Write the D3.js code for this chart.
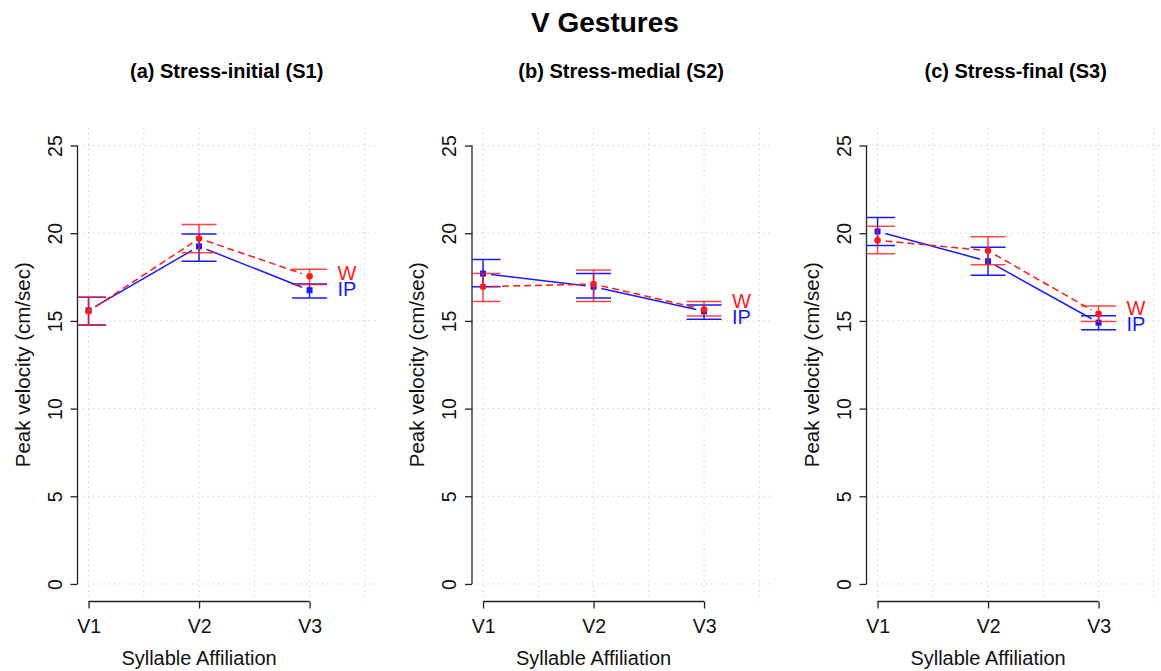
<!DOCTYPE html>
<html><head><meta charset="utf-8">
<script src="https://cdn.jsdelivr.net/npm/d3@7"></script>
<style>body{margin:0;background:#fff}svg{display:block}text{font-family:"Liberation Sans",Arial,sans-serif}</style>
</head><body>
<svg id="c" width="1161" height="671"></svg>
<script>
const mainTitle = "V Gestures";
const panelTitles = ["(a) Stress-initial (S1)", "(b) Stress-medial (S2)", "(c) Stress-final (S3)"];
const categories = ["V1", "V2", "V3"];
const yTicks = [0, 5, 10, 15, 20, 25];
const seriesNames = ["W", "IP"];
// W (red, dashed) means and error limits per panel
const wMean = [[15.55, 19.70, 17.55], [16.95, 17.10, 15.65], [19.60, 19.00, 15.40]];
const wLow  = [[14.76, 18.88, 17.08], [16.10, 16.10, 15.28], [18.83, 18.20, 14.96]];
const wHigh = [[16.35, 20.50, 17.95], [17.70, 17.90, 16.10], [20.40, 19.80, 15.85]];
// IP (blue, solid)
const ipMean = [[15.60, 19.25, 16.75], [17.70, 16.95, 15.55], [20.10, 18.40, 14.90]];
const ipLow  = [[14.76, 18.40, 16.30], [16.95, 16.30, 15.10], [19.30, 17.60, 14.50]];
const ipHigh = [[16.35, 19.95, 17.10], [18.50, 17.70, 15.90], [20.90, 19.20, 15.30]];

const svg = d3.select("#c");
const RED = "#ff1a1a", BLUE = "#1a1aff", AX = "#222";

svg.append("text").attr("x", 605).attr("y", 32).attr("text-anchor", "middle")
  .attr("font-size", 28).attr("font-weight", "bold").text(mainTitle);

panelTitles.forEach((t, k) => {
  const left = 77.5 + 394.5 * k;
  const x = d3.scaleLinear().domain([0.9, 3.6]).range([left, left + 2.7 * 110.5]);
  const y = d3.scaleLinear().domain([-1, 26]).range([601.5, 128]);
  const g = svg.append("g");
  const cid = "clip" + k;
  svg.append("clipPath").attr("id", cid).append("rect")
    .attr("x", x(0.9)).attr("y", y(26)).attr("width", x(3.6) - x(0.9)).attr("height", y(-1) - y(26));

  g.append("text").attr("x", (x(0.9) + x(3.6)) / 2).attr("y", 78).attr("text-anchor", "middle")
    .attr("font-size", 20).attr("font-weight", "bold").text(t);

  // grid
  const gx = d3.range(1, 3.51, 0.5);
  g.selectAll(".gv").data(gx).join("line")
    .attr("x1", d => x(d)).attr("x2", d => x(d)).attr("y1", y(26)).attr("y2", y(-1))
    .attr("stroke", "#c8c8c8").attr("stroke-dasharray", "1.2,4").attr("stroke-width", 1);
  g.selectAll(".gh").data(yTicks).join("line")
    .attr("x1", x(0.9)).attr("x2", x(3.6)).attr("y1", d => y(d)).attr("y2", d => y(d))
    .attr("stroke", "#c8c8c8").attr("stroke-dasharray", "1.2,4").attr("stroke-width", 1);

  // y axis
  const ya = g.append("g").attr("transform", `translate(${x(0.9)},0)`)
    .call(d3.axisLeft(y).tickValues(yTicks).tickSize(7).tickSizeOuter(0).tickFormat(d3.format("d")));
  ya.select(".domain").attr("d", `M0,${y(0)}V${y(25)}`).attr("stroke", AX).attr("stroke-width", 1.3);
  ya.selectAll(".tick line").attr("stroke", AX).attr("stroke-width", 1.3);
  ya.selectAll(".tick text").attr("font-size", 19.5).attr("fill", "#111")
    .attr("x", 0).attr("y", 0).attr("dy", 0).attr("text-anchor", "middle")
    .attr("transform", "translate(-16,0) rotate(-90)");

  // x axis
  const xa = g.append("g").attr("transform", `translate(0,${y(-1)})`)
    .call(d3.axisBottom(x).tickValues([1, 2, 3]).tickSize(7).tickSizeOuter(0).tickFormat(d => categories[d - 1]));
  xa.select(".domain").attr("d", `M${x(1)},0H${x(3)}`).attr("stroke", AX).attr("stroke-width", 1.3);
  xa.selectAll(".tick line").attr("stroke", AX).attr("stroke-width", 1.3);
  xa.selectAll(".tick text").attr("font-size", 19.5).attr("fill", "#111").attr("y", 31).attr("dy", 0);

  g.append("text").attr("x", x(2)).attr("y", 665).attr("text-anchor", "middle")
    .attr("font-size", 20).attr("fill", "#111").text("Syllable Affiliation");
  g.append("text").attr("transform", `translate(${x(0.9) - 48},${y(12.5)}) rotate(-90)`)
    .attr("text-anchor", "middle").attr("font-size", 20.5).attr("fill", "#111").text("Peak velocity (cm/sec)");

  const plot = g.append("g").attr("clip-path", `url(#${cid})`);
  const series = [
    {mean: ipMean[k], lo: ipLow[k], hi: ipHigh[k], color: BLUE, dash: null, shape: "sq"},
    {mean: wMean[k], lo: wLow[k], hi: wHigh[k], color: RED, dash: "7,4", shape: "ci"}
  ];
  series.forEach((s, si) => {
    const pts = s.mean.map((v, i) => [x(i + 1), y(v)]);
    for (let i = 0; i < pts.length - 1; i++) {
      const [x1, y1] = pts[i], [x2, y2] = pts[i + 1];
      const L = Math.hypot(x2 - x1, y2 - y1), gap = 8;
      const ux = (x2 - x1) / L, uy = (y2 - y1) / L;
      plot.append("line").attr("x1", x1 + ux * gap).attr("y1", y1 + uy * gap)
        .attr("x2", x2 - ux * gap).attr("y2", y2 - uy * gap)
        .attr("stroke", s.color).attr("stroke-width", 1.5).attr("stroke-dasharray", s.dash);
    }
    s.mean.forEach((v, i) => {
      const cx = x(i + 1), op = si === 1 ? 0.8 : 1;
      plot.append("line").attr("x1", cx).attr("x2", cx).attr("y1", y(s.lo[i])).attr("y2", y(s.hi[i]))
        .attr("stroke", s.color).attr("stroke-width", 1.5).attr("opacity", op);
      [s.lo[i], s.hi[i]].forEach(e => {
        plot.append("line").attr("x1", cx - 17.5).attr("x2", cx + 17.5).attr("y1", y(e)).attr("y2", y(e))
          .attr("stroke", s.color).attr("stroke-width", 1.5).attr("opacity", op);
      });
      if (s.shape === "sq") {
        plot.append("rect").attr("x", cx - 3).attr("y", y(v) - 3).attr("width", 6).attr("height", 6).attr("fill", s.color);
      } else {
        plot.append("circle").attr("cx", cx).attr("cy", y(v)).attr("r", 3.3).attr("fill", s.color);
      }
    });
  });

  let yw = y(wMean[k][2]), yi = y(ipMean[k][2]);
  const minSep = 16;
  if (yi - yw < minSep) { const m = (yw + yi) / 2; yw = m - minSep / 2; yi = m + minSep / 2; }
  g.append("text").attr("x", x(3) + 28).attr("y", yw - 2).attr("dy", "0.36em").attr("font-size", 20)
    .attr("fill", RED).text(seriesNames[0]);
  g.append("text").attr("x", x(3) + 28).attr("y", yi - 2).attr("dy", "0.36em").attr("font-size", 20)
    .attr("fill", BLUE).text(seriesNames[1]);
});
</script>
</body></html>
